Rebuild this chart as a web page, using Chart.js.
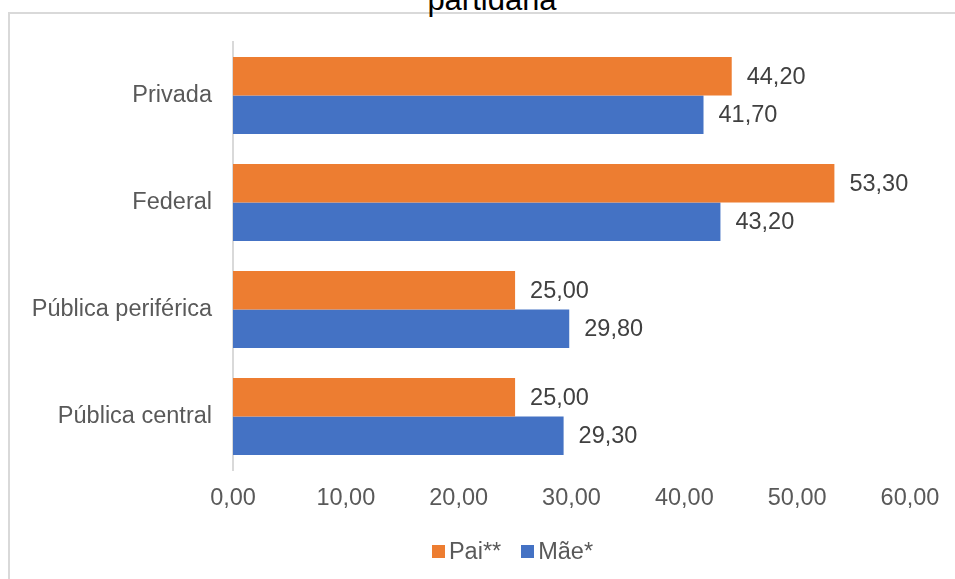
<!DOCTYPE html>
<html>
<head>
<meta charset="utf-8">
<script src="https://cdn.jsdelivr.net/npm/chart.js@4/dist/chart.umd.min.js"></script>
<style>
  html, body { margin: 0; padding: 0; background: #fff; }
  body { width: 955px; height: 579px; position: relative; overflow: hidden; font-family: "Liberation Sans", Arial, sans-serif; }
  #frame { position: absolute; left: 8px; top: 12px; width: 1000px; height: 700px; border: 2px solid #d9d9d9; box-sizing: border-box; }
  #title { position: absolute; left: 0; width: 984px; top: -16px; text-align: center; font-size: 31px; line-height: 31px; color: #000; }
  #wrap { position: absolute; left: 0; top: 0; width: 955px; height: 579px; }
  #legend { position: absolute; top: 538px; left: 0; width: 955px; display: flex; justify-content: center; margin-left: 35px; font-size: 23.5px; color: #595959; }
  .item { display: flex; align-items: center; margin: 0 10px; }
  .box { width: 13px; height: 13px; margin-right: 4px; }
</style>
</head>
<body>
<div id="frame"></div>
<div id="title">partidária</div>
<div id="wrap"><canvas id="chart"></canvas></div>
<div id="legend"></div>
<script>
// categories, top to bottom
const categories = ['Privada', 'Federal', 'Pública periférica', 'Pública central'];
const paiValues = [44.2, 53.3, 25.0, 25.0];
const maeValues = [41.7, 43.2, 29.8, 29.3];
const seriesNames = ['Pai**', 'Mãe*'];
const seriesColors = ['#ED7D31', '#4472C4'];
const xTicks = [0, 10, 20, 30, 40, 50, 60];

const fmt = v => v.toFixed(2).replace('.', ',');
const FONT = '"Liberation Sans", Arial, sans-serif';
const SIZE = 23.5;

// value labels at the end of each bar
const barLabels = {
    id: 'barLabels',
    afterDatasetsDraw(chart) {
        const ctx = chart.ctx;
        ctx.save();
        ctx.font = SIZE + 'px ' + FONT;
        ctx.fillStyle = '#404040';
        ctx.textAlign = 'left';
        ctx.textBaseline = 'middle';
        chart.data.datasets.forEach((ds, i) => {
            chart.getDatasetMeta(i).data.forEach((el, j) => {
                ctx.fillText(fmt(ds.data[j]), el.x + 15, el.y + 1);
            });
        });
        ctx.restore();
    }
};

new Chart(document.getElementById('chart'), {
    type: 'bar',
    data: {
        labels: categories,
        datasets: [
            { label: seriesNames[0], data: paiValues, backgroundColor: seriesColors[0] },
            { label: seriesNames[1], data: maeValues, backgroundColor: seriesColors[1] }
        ]
    },
    options: {
        indexAxis: 'y',
        responsive: true,
        maintainAspectRatio: false,
        animation: false,
        layout: { padding: { top: 42, right: 45, bottom: 59, left: 0 } },
        datasets: { bar: { barPercentage: 1, categoryPercentage: 0.72 } },
        plugins: { legend: { display: false }, tooltip: { enabled: false } },
        scales: {
            x: {
                min: 0, max: 60,
                afterBuildTicks: s => { s.ticks = xTicks.map(v => ({ value: v })); },
                afterFit: s => { s.height = 50; },
                grid: { display: false, drawTicks: false },
                border: { display: false },
                ticks: { color: '#595959', font: { family: FONT, size: SIZE }, padding: 14, callback: v => fmt(v), maxRotation: 0 }
            },
            y: {
                afterFit: s => { s.width = 233; },
                grid: { display: false, drawTicks: false },
                border: { display: true, color: '#d9d9d9', width: 2 },
                ticks: { color: '#595959', font: { family: FONT, size: SIZE }, padding: 21 }
            }
        }
    },
    plugins: [barLabels]
});

const legend = document.getElementById('legend');
seriesNames.forEach((name, i) => {
    const item = document.createElement('div');
    item.className = 'item';
    item.innerHTML = '<span class="box" style="background:' + seriesColors[i] + '"></span>' + name;
    legend.appendChild(item);
});
</script>
</body>
</html>
